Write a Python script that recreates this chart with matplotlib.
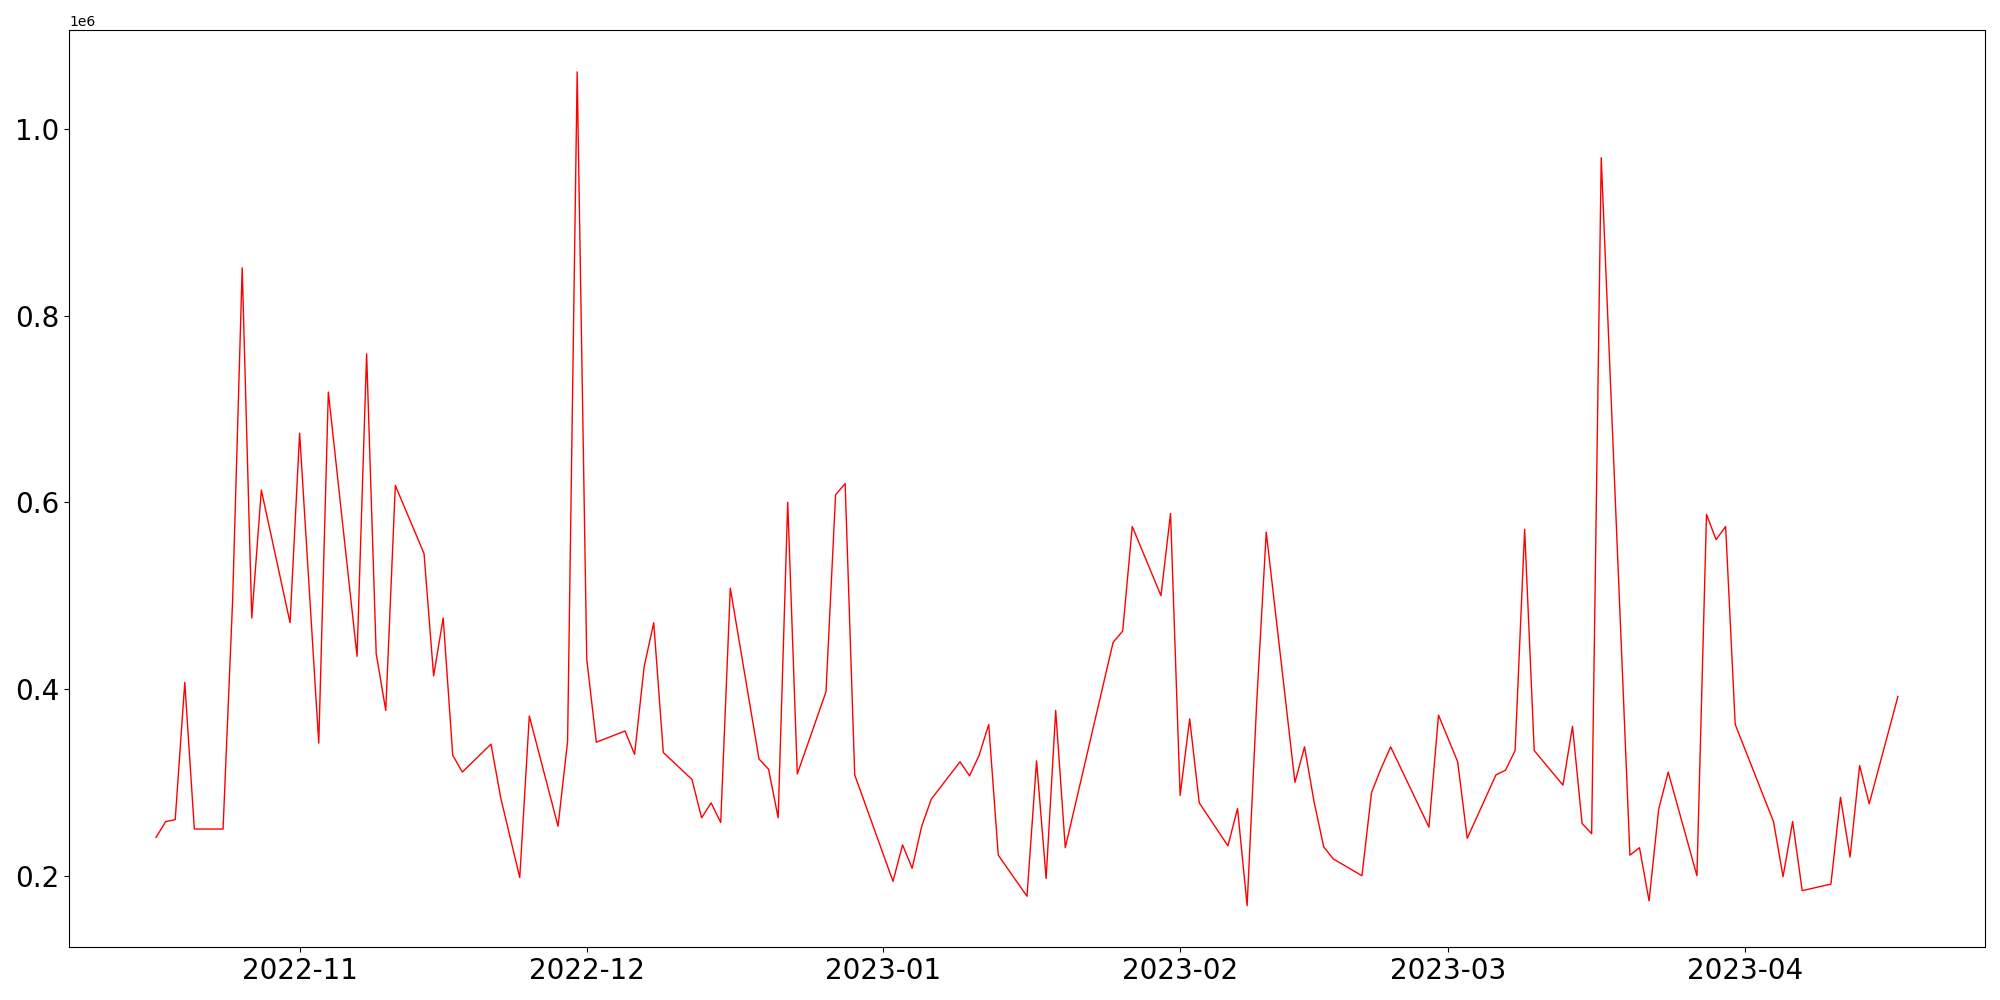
import matplotlib
matplotlib.use("Agg")
import matplotlib.pyplot as plt
import numpy as np
import pandas as pd

# day offsets from 2022-10-17 and values (x1e6)
day_offsets = [0, 1, 2, 3, 4, 7, 8, 9, 10, 11, 14, 15, 17, 18, 21, 22, 23, 24, 25,
               28, 29, 30, 31, 32, 35, 36, 38, 39, 42, 43, 44, 45, 46, 49, 50, 51, 52, 53,
               56, 57, 58, 59, 60, 63, 64, 65, 66, 67, 70, 71, 72, 73, 77, 78, 79, 80, 81,
               84, 85, 86, 87, 88, 91, 92, 93, 94, 95, 100, 101, 102, 105, 106, 107, 108, 109,
               112, 113, 114, 115, 116, 119, 120, 121, 122, 123, 126, 127, 128, 129, 133, 134,
               136, 137, 140, 141, 142, 143, 144, 147, 148, 149, 150, 151, 154, 155, 156, 157, 158,
               161, 162, 163, 164, 165, 169, 170, 171, 172, 175, 176, 177, 178, 179, 182]

values = [0.241, 0.258, 0.260, 0.407, 0.250, 0.250, 0.495, 0.851, 0.476, 0.613, 0.471, 0.674,
          0.342, 0.718, 0.435, 0.759, 0.438, 0.377, 0.618,
          0.545, 0.414, 0.476, 0.329, 0.311, 0.341, 0.284, 0.198, 0.371, 0.253, 0.344, 1.061,
          0.432, 0.343, 0.355, 0.330, 0.424, 0.471, 0.332,
          0.303, 0.262, 0.278, 0.257, 0.508, 0.325, 0.314, 0.262, 0.600, 0.309, 0.397, 0.608,
          0.620, 0.308, 0.194, 0.233, 0.208, 0.253, 0.282,
          0.322, 0.307, 0.329, 0.362, 0.222, 0.178, 0.323, 0.197, 0.377, 0.230, 0.450, 0.462,
          0.574, 0.500, 0.588, 0.286, 0.368, 0.278,
          0.232, 0.272, 0.168, 0.385, 0.568, 0.300, 0.338, 0.279, 0.231, 0.218, 0.200, 0.289,
          0.315, 0.338, 0.252, 0.372,
          0.322, 0.240, 0.308, 0.313, 0.334, 0.571, 0.334, 0.297, 0.360, 0.256, 0.245, 0.969,
          0.222, 0.230, 0.173, 0.271, 0.311,
          0.200, 0.587, 0.560, 0.574, 0.362, 0.258, 0.199, 0.258, 0.184, 0.191, 0.284, 0.220,
          0.318, 0.277, 0.392]

dates = pd.Timestamp("2022-10-17") + pd.to_timedelta(day_offsets, unit="D")
y = np.array(values) * 1e6

fig, ax = plt.subplots(figsize=(20, 10), dpi=100)
ax.plot(dates, y, color="red", linewidth=1)
plt.xticks(fontsize=20)
plt.yticks(fontsize=20)
plt.tight_layout()
plt.savefig("out.png")
